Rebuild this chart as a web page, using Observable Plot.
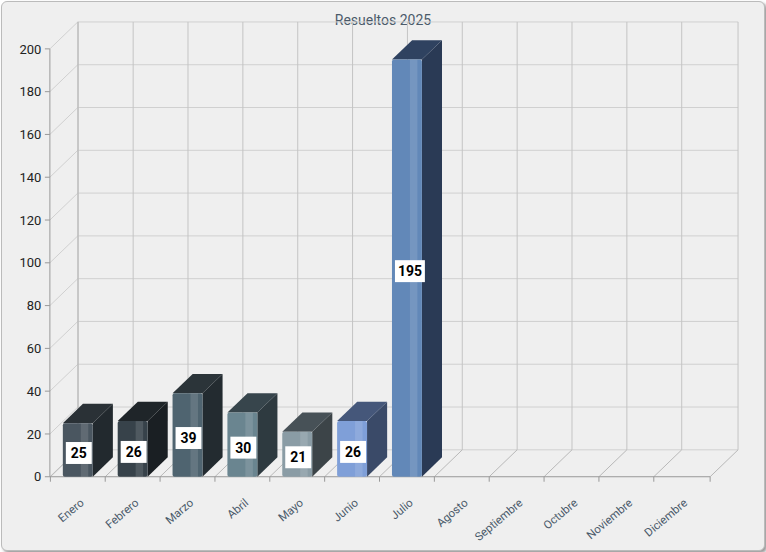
<!DOCTYPE html>
<html><head><meta charset="utf-8">
<script src="https://cdn.jsdelivr.net/npm/d3@7"></script>
<script src="https://cdn.jsdelivr.net/npm/@observablehq/plot@0.6"></script>
<style>
body{margin:0;background:#fff;font-family:Roboto,"Liberation Sans",sans-serif;}
#wrap{position:relative;width:762px;height:548px;margin:1px;border:1px solid #bbb;border-radius:6px;background:#efefef;box-shadow:2px 2px 3px #999;overflow:hidden}
#title{position:absolute;top:10px;left:0;width:100%;text-align:center;font-size:14px;color:#4a5a6a}
#chart{position:absolute;left:-2px;top:-2px}
</style></head><body>
<div id="wrap"><div id="title">Resueltos 2025</div><div id="chart"></div></div>
<script>
const months = ["Enero","Febrero","Marzo","Abril","Mayo","Junio","Julio","Agosto","Septiembre","Octubre","Noviembre","Diciembre"];
const values = [25,26,39,30,21,26,195,null,null,null,null,null];
const fronts = ["#4a5660","#37424a","#4f6470","#6a8590","#8a9ca5","#7f9fd8","#6288b8"];
const sides  = ["#22292e","#1a1f23","#232b30","#2e3a40","#3c4448","#3a4a68","#2a3a55"];
const tops   = ["#2a3136","#1f2529","#2b3439","#37454c","#475157","#45577a","#2f4260"];
const yTicks = d3.range(0, 201, 20);

const data = months.map((m,i)=>({month:m, value:values[i], i}));
const DX = 28, DY = -27, BD = 0.72;

function scene(index, scales, vals, dim, ctx) {
  const g = d3.create("svg:g");
  const x = scales.x, y = scales.y;
  const x0 = dim.marginLeft, x1 = dim.width - dim.marginRight;
  const bw = x.bandwidth(), step = x.step();
  const edge = months.map(m => x(m) - (step - bw)/2).concat([x1]);
  for (const t of yTicks) {
    const yy = y(t);
    g.append("line").attr("x1",x0+DX).attr("x2",x1+DX).attr("y1",yy+DY).attr("y2",yy+DY).attr("stroke","#d0d0d0");
    g.append("line").attr("x1",x0).attr("x2",x0+DX).attr("y1",yy).attr("y2",yy+DY).attr("stroke","#d0d0d0");
  }
  for (const e of edge) {
    g.append("line").attr("x1",e+DX).attr("x2",e+DX).attr("y1",y(0)+DY).attr("y2",y(200)+DY).attr("stroke","#c4c4c4");
    g.append("line").attr("x1",e).attr("x2",e+DX).attr("y1",y(0)).attr("y2",y(0)+DY).attr("stroke","#b8b8b8");
  }
  g.append("line").attr("x1",x0+DX).attr("x2",x0+DX).attr("y1",y(0)+DY).attr("y2",y(200)+DY).attr("stroke","#bbb");
  g.append("line").attr("x1",x0).attr("x2",x0).attr("y1",y(0)).attr("y2",y(200)).attr("stroke","#999");
  g.append("line").attr("x1",x0).attr("x2",x1).attr("y1",y(0)).attr("y2",y(0)).attr("stroke","#999");
  for (const t of yTicks) g.append("line").attr("x1",x0-5).attr("x2",x0).attr("y1",y(t)).attr("y2",y(t)).attr("stroke","#999");
  for (const e of edge) g.append("line").attr("x1",e).attr("x2",e).attr("y1",y(0)).attr("y2",y(0)+5).attr("stroke","#999");
  const dx = DX*BD, dy = DY*BD;
  for (const i of index) {
    const d = data[i]; if (d.value == null) continue;
    const l = x(d.month), r = l + bw, b = y(0), t = y(d.value);
    g.append("path").attr("d",`M${r},${b}L${r+dx},${b+dy}L${r+dx},${t+dy}L${r},${t}Z`).attr("fill",sides[i]);
    g.append("path").attr("d",`M${l},${t}L${l+dx},${t+dy}L${r+dx},${t+dy}L${r},${t}Z`).attr("fill",tops[i]);
    g.append("rect").attr("x",l).attr("y",t).attr("width",bw).attr("height",b-t).attr("fill",fronts[i]).attr("rx",2);
    g.append("rect").attr("x",l+bw*0.6).attr("y",t).attr("width",bw*0.25).attr("height",b-t).attr("fill","#fff").attr("opacity",0.12);
    const cy = (t+b)/2 + 3, cx = l + bw/2 + 2;
    g.append("rect").attr("x",cx-14).attr("y",cy-11).attr("width",d.value>=100?30:26).attr("height",22).attr("fill","#fff");
    g.append("text").attr("x",cx-(d.value>=100?-1:1)).attr("y",cy+5).attr("text-anchor","middle").attr("font-size",14).attr("font-weight","bold").attr("fill","#000").text(d.value);
  }
  return g.node();
}

const chart = Plot.plot({
  width: 766, height: 552,
  marginLeft: 50, marginRight: 54, marginTop: 49, marginBottom: 74,
  style: {background: "transparent", fontFamily: "Roboto, sans-serif"},
  x: {domain: months, paddingInner: 0.45, paddingOuter: 0.225, axis: null},
  y: {domain: [0, 200], axis: null},
  marks: [
    Plot.barY(data, {x: "month", y: d => d.value ?? 0, render: scene}),
    Plot.axisY({ticks: yTicks, tickSize: 0, tickPadding: 9, fontSize: 13, fill: "#222", label: null}),
    Plot.axisX({tickSize: 0, tickRotate: -40, textAnchor: "end", dx: 4, dy: 12, fontSize: 11.5, fill: "#4a5a6a", label: null})
  ]
});
document.getElementById("chart").append(chart);
</script></body></html>
